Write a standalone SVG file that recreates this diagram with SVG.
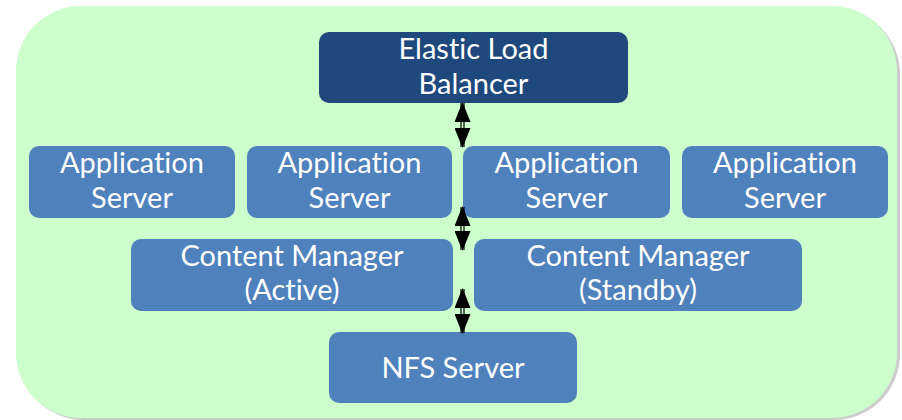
<svg xmlns="http://www.w3.org/2000/svg" width="902" height="420" viewBox="0 0 902 420">
<style>
.node{fill:#4f81bd;}
.dark{fill:#1f497d;}
.lbl{font-family:Lato,"Open Sans","Liberation Sans",sans-serif;font-size:29px;fill:#ffffff;text-anchor:middle;font-variant-ligatures:none;}
.conn{stroke:#000;stroke-width:1.2;fill:none;}
</style>
<defs>
<marker id="ah" viewBox="0 0 20 16" refX="19" refY="8" markerWidth="20" markerHeight="16" markerUnits="userSpaceOnUse" orient="auto-start-reverse">
<path d="M0,0 L20,8 L0,16 Z" fill="#000"/>
</marker>
</defs>
<rect x="18" y="8" width="882" height="412" rx="66" fill="#999" opacity="0.5"/>
<rect x="16" y="6" width="881" height="412" rx="65" fill="#ccffcc"/>
<g id="elb"><rect class="dark" x="319" y="32" width="309" height="71" rx="10"/><text class="lbl" x="473.5" y="59">Elastic Load</text><text class="lbl" x="473.5" y="94">Balancer</text></g>
<g id="app1"><rect class="node" x="29" y="146" width="206" height="72" rx="10"/><text class="lbl" x="132" y="173">Application</text><text class="lbl" x="132" y="208">Server</text></g>
<g id="app2"><rect class="node" x="247" y="146" width="205" height="72" rx="10"/><text class="lbl" x="349.5" y="173">Application</text><text class="lbl" x="349.5" y="208">Server</text></g>
<g id="app3"><rect class="node" x="463" y="146" width="207" height="72" rx="10"/><text class="lbl" x="566.5" y="173">Application</text><text class="lbl" x="566.5" y="208">Server</text></g>
<g id="app4"><rect class="node" x="682" y="146" width="206" height="72" rx="10"/><text class="lbl" x="785" y="173">Application</text><text class="lbl" x="785" y="208">Server</text></g>
<g id="cm-active"><rect class="node" x="131" y="239" width="322" height="72" rx="10"/><text class="lbl" x="292" y="266">Content Manager</text><text class="lbl" x="292" y="300">(Active)</text></g>
<g id="cm-standby"><rect class="node" x="474" y="239" width="328" height="72" rx="10"/><text class="lbl" x="638" y="266">Content Manager</text><text class="lbl" x="638" y="300">(Standby)</text></g>
<g id="nfs"><rect class="node" x="329" y="332" width="248" height="71" rx="10"/><text class="lbl" x="453" y="378">NFS Server</text></g>
<g id="connectors">
<path class="conn" d="M461,103 L461,147 M464,103 L464,147"/>
<path d="M462.5,103 L462.5,147" stroke="none" fill="none" marker-start="url(#ah)" marker-end="url(#ah)"/>
<path class="conn" d="M461,207 L461,250 M464,207 L464,250"/>
<path d="M462.5,207 L462.5,250" stroke="none" fill="none" marker-start="url(#ah)" marker-end="url(#ah)"/>
<path class="conn" d="M461,289 L461,333 M464,289 L464,333"/>
<path d="M462.5,289 L462.5,333" stroke="none" fill="none" marker-start="url(#ah)" marker-end="url(#ah)"/>
</g>
</svg>
